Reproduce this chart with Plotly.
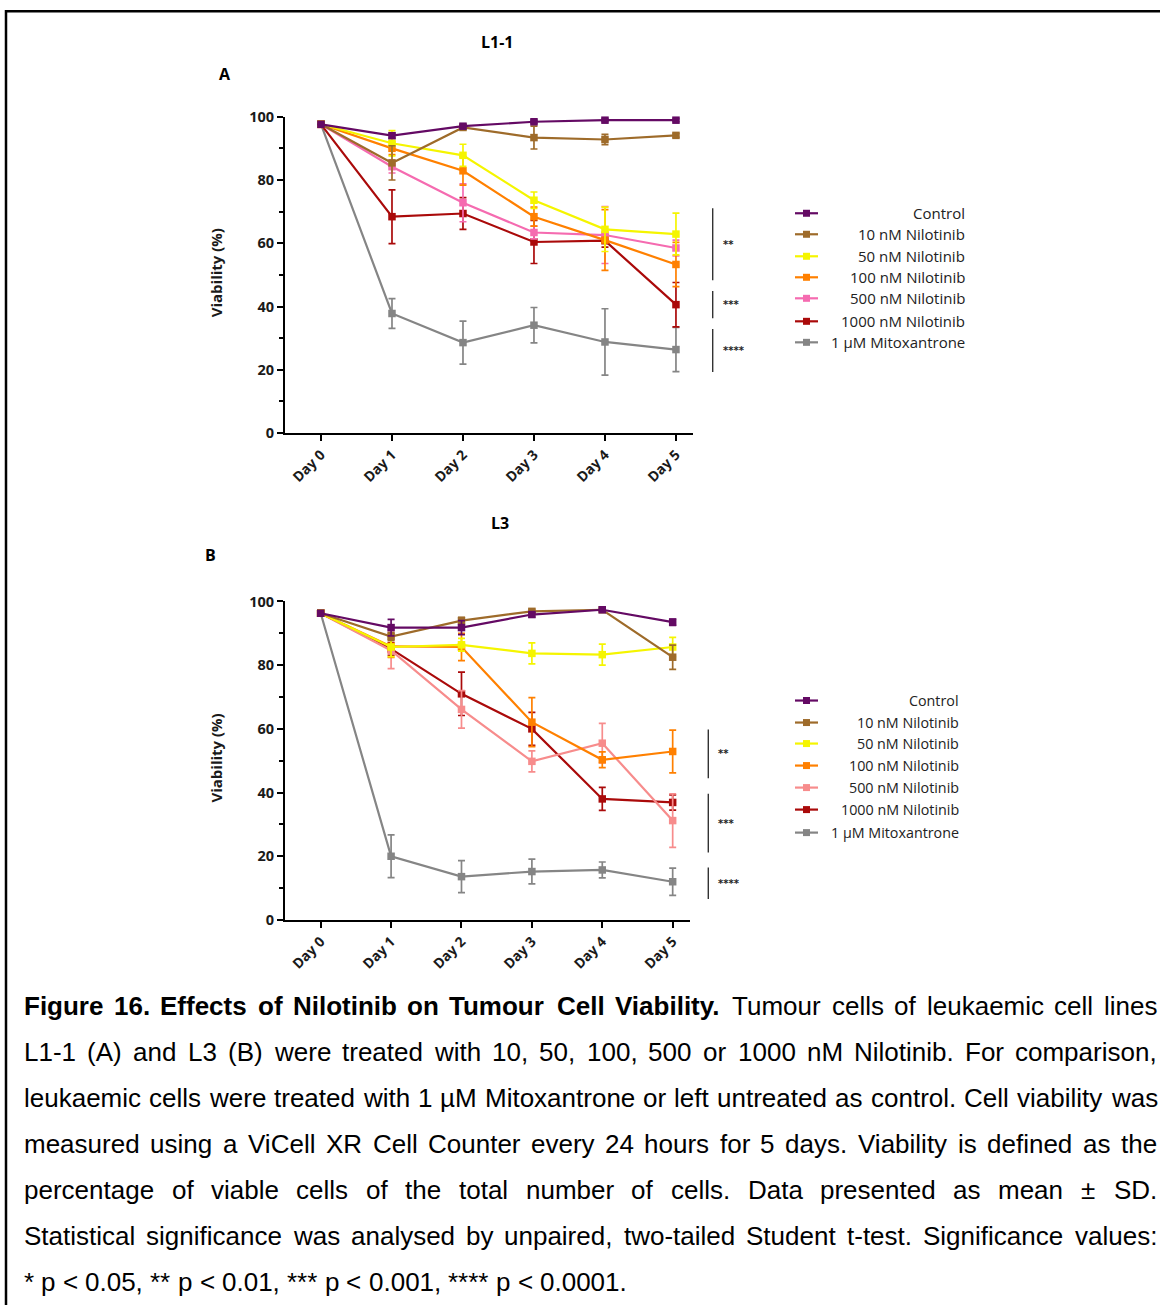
import plotly.graph_objects as go

W, H = 1160, 1305

# ---------------- data ----------------
days = ["Day 0", "Day 1", "Day 2", "Day 3", "Day 4", "Day 5"]
series = ["Control", "10 nM Nilotinib", "50 nM Nilotinib", "100 nM Nilotinib",
          "500 nM Nilotinib", "1000 nM Nilotinib", "1 µM Mitoxantrone"]

# Panel A: L1-1
a_control = [97.6, 94.0, 97.0, 98.4, 98.9, 98.9]
a_control_sd = [0, 0.8, 0.6, 0.5, 0.5, 0.5]
a_nil10 = [97.6, 85.4, 96.6, 93.4, 92.8, 94.1]
a_nil10_sd = [0, 5.4, 0.6, 3.6, 1.6, 0.6]
a_nil50 = [97.6, 91.6, 87.8, 73.6, 64.4, 62.9]
a_nil50_sd = [0, 4.0, 3.5, 2.6, 7.0, 6.6]
a_nil100 = [97.6, 90.0, 82.9, 68.4, 61.0, 53.3]
a_nil100_sd = [0, 2.0, 4.5, 3.0, 9.6, 7.0]
a_nil500 = [97.6, 84.2, 72.8, 63.4, 62.6, 58.5]
a_nil500_sd = [0, 2.0, 6.0, 2.0, 9.0, 2.5]
a_nil1000 = [97.6, 68.4, 69.4, 60.4, 60.8, 40.6]
a_nil1000_sd = [0, 8.5, 5.0, 6.8, 2.0, 7.0]
a_mitox = [97.6, 37.8, 28.6, 34.1, 28.8, 26.4]
a_mitox_sd = [0, 4.7, 6.8, 5.6, 10.5, 7.0]

# Panel B: L3
b_control = [96.3, 91.8, 91.8, 95.9, 97.4, 93.5]
b_control_sd = [0, 2.6, 2.2, 0.8, 0.5, 1.0]
b_nil10 = [96.3, 89.0, 94.0, 96.9, 97.4, 82.5]
b_nil10_sd = [0, 1.2, 1.0, 0.6, 0.4, 3.8]
b_nil50 = [96.3, 85.7, 86.4, 83.7, 83.3, 85.7]
b_nil50_sd = [0, 3.0, 2.0, 3.3, 3.3, 3.0]
b_nil100 = [96.3, 85.9, 85.7, 62.1, 50.3, 52.9]
b_nil100_sd = [0, 3.5, 4.3, 7.7, 2.5, 6.7]
b_nil500 = [96.3, 84.6, 66.1, 49.8, 55.5, 31.2]
b_nil500_sd = [0, 5.7, 5.9, 3.3, 6.2, 8.4]
b_nil1000 = [96.3, 85.1, 71.0, 60.0, 38.0, 36.9]
b_nil1000_sd = [0, 2.0, 6.8, 5.2, 3.6, 2.4]
b_mitox = [96.3, 20.0, 13.6, 15.2, 15.7, 12.0]
b_mitox_sd = [0, 6.7, 5.0, 3.9, 2.5, 4.3]

# significance brackets (label, top, bottom) in viability units
sig_A = [("**", 71.1, 48.3), ("***", 44.9, 36.3), ("****", 32.9, 19.3)]
sig_B = [("**", 59.8, 44.5), ("***", 39.6, 21.2), ("****", 16.5, 6.6)]

y_ticks = [0, 20, 40, 60, 80, 100]

# ---------------- styles ----------------
colors_A = ["#640a64", "#9e6b2a", "#f5f500", "#ff8000", "#f56bb0", "#aa0a0a", "#858585"]
colors_B = ["#640a64", "#9e6b2a", "#f5f500", "#ff8000", "#f78c8c", "#aa0a0a", "#858585"]

panel_A = list(zip(series, [a_control, a_nil10, a_nil50, a_nil100, a_nil500, a_nil1000, a_mitox],
                   [a_control_sd, a_nil10_sd, a_nil50_sd, a_nil100_sd, a_nil500_sd, a_nil1000_sd, a_mitox_sd],
                   colors_A))
panel_B = list(zip(series, [b_control, b_nil10, b_nil50, b_nil100, b_nil500, b_nil1000, b_mitox],
                   [b_control_sd, b_nil10_sd, b_nil50_sd, b_nil100_sd, b_nil500_sd, b_nil1000_sd, b_mitox_sd],
                   colors_B))

# vertical compensation for the page offset/scale seen in rendering
V_SCALE, V_OFF = 0.9849, 9.85

def px(x):
    return x / W

def py(y):
    return 1 - ((y - V_OFF) / V_SCALE) / H

fig = go.Figure()

for panel, xa, ya in [(panel_A, "x", "y"), (panel_B, "x2", "y2")]:
    for name, vals, sd, col in reversed(panel):
        fig.add_trace(go.Scatter(
            x=days, y=vals, name=name, xaxis=xa, yaxis=ya,
            mode="lines+markers", showlegend=False, cliponaxis=False,
            line=dict(color=col, width=2.2),
            marker=dict(symbol="square", size=7.5, color=col),
            error_y=dict(type="data", array=sd, color=col, thickness=1.7, width=3.5),
        ))

axis_common = dict(showline=True, linecolor="black", linewidth=2, ticks="outside",
                   tickcolor="black", tickwidth=2, ticklen=6, showgrid=False, zeroline=False)
xfont = dict(family="Open Sans", size=14, color="#1a1a1a", weight="bold")
yfont = dict(family="Open Sans", size=14.5, color="#1a1a1a", weight="bold")

fig.update_layout(
    width=W, height=H, margin=dict(l=0, r=0, t=0, b=0),
    paper_bgcolor="white", plot_bgcolor="white", showlegend=False,
    xaxis=dict(domain=[px(285), px(693)], anchor="y", type="category",
               range=[-0.507, 5.24], tickangle=-45, tickfont=xfont, **axis_common),
    yaxis=dict(domain=[py(432.7), py(116.5)], anchor="x", range=[0, 100],
               tickvals=y_ticks, tickfont=yfont,
               minor=dict(dtick=10, ticks="outside", ticklen=4, tickwidth=2, tickcolor="black"),
               **axis_common),
    xaxis2=dict(domain=[px(285), px(690)], anchor="y2", type="category",
                range=[-0.507, 5.246], tickangle=-45, tickfont=xfont, **axis_common),
    yaxis2=dict(domain=[py(919.3), py(601)], anchor="x2", range=[0, 100],
                tickvals=y_ticks, tickfont=yfont,
                minor=dict(dtick=10, ticks="outside", ticklen=4, tickwidth=2, tickcolor="black"),
                **axis_common),
)

shapes = []
annots = []

# border frame
shapes.append(dict(type="rect", xref="paper", yref="paper", x0=px(6), x1=1.02,
                   y0=-0.02, y1=py(11), line=dict(color="black", width=2.5)))

# titles and panel letters
title_font = dict(family="Open Sans", size=16, color="black", weight="bold")
for txt, x, y in [("L1-1", 497, 42), ("A", 225, 74), ("L3", 500, 523), ("B", 210, 555)]:
    annots.append(dict(text=txt, x=px(x), y=py(y), xref="paper", yref="paper",
                       showarrow=False, font=title_font, xanchor="center", yanchor="middle"))

# y-axis titles
for y in [273, 758]:
    annots.append(dict(text="Viability (%)", x=px(216), y=py(y), xref="paper", yref="paper",
                       showarrow=False, textangle=-90,
                       font=dict(family="Open Sans", size=15, color="#1a1a1a", weight="bold"),
                       xanchor="center", yanchor="middle"))

# significance brackets
for sigs, yref, xline in [(sig_A, "y", 712.7), (sig_B, "y2", 708.3)]:
    for lab, top, bot in sigs:
        shapes.append(dict(type="line", xref="paper", yref=yref, x0=px(xline), x1=px(xline),
                           y0=bot, y1=top, line=dict(color="#333333", width=1.4)))
        annots.append(dict(text=lab, x=px(xline + 8), y=(top + bot) / 2, xref="paper", yref=yref,
                           showarrow=False, xanchor="left", yanchor="middle",
                           font=dict(family="DejaVu Sans", size=10, color="#222222", weight="bold")))

# custom legends (right-aligned labels as in the original)
for panel, rows, text_right, fsize in [
        (panel_A, [213, 234, 256, 277, 298, 321, 342], 967, 15),
        (panel_B, [700, 722, 743, 765, 787, 809, 832], 961, 14.3)]:
    for (name, _, _, col), yr in zip(panel, rows):
        shapes.append(dict(type="line", xref="paper", yref="paper", x0=px(795), x1=px(818),
                           y0=py(yr), y1=py(yr), line=dict(color=col, width=2.2)))
        shapes.append(dict(type="rect", xref="paper", yref="paper", x0=px(803), x1=px(810),
                           y0=py(yr + 3.5), y1=py(yr - 3.5), line=dict(width=0), fillcolor=col))
        annots.append(dict(text=name, x=px(text_right), y=py(yr), xref="paper", yref="paper",
                           showarrow=False, xanchor="right", yanchor="middle",
                           font=dict(family="Open Sans", size=fsize, color="#222222")))

# ---------------- caption (justified, Arial metrics) ----------------
REG = {' ': 278, '!': 278, '%': 889, '(': 333, ')': 333, '*': 389, ',': 278, '-': 333, '.': 278,
       ':': 278, '<': 584, '±': 584, 'µ': 556,
       'A': 667, 'B': 667, 'C': 722, 'D': 722, 'E': 667, 'F': 611, 'G': 778, 'H': 722, 'I': 278,
       'J': 500, 'K': 667, 'L': 556, 'M': 833, 'N': 722, 'O': 778, 'P': 667, 'Q': 778, 'R': 722,
       'S': 667, 'T': 611, 'U': 722, 'V': 667, 'W': 944, 'X': 667, 'Y': 667, 'Z': 611,
       'a': 556, 'b': 556, 'c': 500, 'd': 556, 'e': 556, 'f': 278, 'g': 556, 'h': 556, 'i': 222,
       'j': 222, 'k': 500, 'l': 222, 'm': 833, 'n': 556, 'o': 556, 'p': 556, 'q': 556, 'r': 333,
       's': 500, 't': 278, 'u': 556, 'v': 500, 'w': 722, 'x': 500, 'y': 500, 'z': 500}
for d in "0123456789":
    REG[d] = 556
BOLD = {' ': 278, '.': 278, 'A': 722, 'B': 722, 'C': 722, 'D': 722, 'E': 667, 'F': 611, 'G': 778,
        'H': 722, 'I': 278, 'L': 611, 'M': 833, 'N': 722, 'T': 611, 'V': 667,
        'a': 556, 'b': 611, 'c': 556, 'd': 611, 'e': 556, 'f': 333, 'g': 611, 'h': 611, 'i': 278,
        'l': 278, 'm': 889, 'n': 611, 'o': 611, 'r': 389, 's': 556, 't': 333, 'u': 611, 'y': 556}
for d in "0123456789":
    BOLD[d] = 556

CAP_SIZE = 26
CAP_LEFT, CAP_RIGHT = 24, 1157
caption_bold = "Figure 16. Effects of Nilotinib on Tumour Cell Viability."
caption_lines = [
    "Tumour cells of leukaemic cell lines",
    "L1-1 (A) and L3 (B) were treated with 10, 50, 100, 500 or 1000 nM Nilotinib. For comparison,",
    "leukaemic cells were treated with 1 µM Mitoxantrone or left untreated as control. Cell viability was",
    "measured using a ViCell XR Cell Counter every 24 hours for 5 days. Viability is defined as the",
    "percentage of viable cells of the total number of cells. Data presented as mean ± SD.",
    "Statistical significance was analysed by unpaired, two-tailed Student t-test. Significance values:",
    "* p < 0.05, ** p < 0.01, *** p < 0.001, **** p < 0.0001.",
]
line_y = [1005, 1051, 1097, 1143, 1189, 1235, 1281]

def word_w(w, bold):
    tab = BOLD if bold else REG
    return sum(tab.get(c, 556) for c in w) * CAP_SIZE / 1000.0

for i, (line, yl) in enumerate(zip(caption_lines, line_y)):
    words = []
    if i == 0:
        words += [(w, True) for w in caption_bold.split(" ")]
    words += [(w, False) for w in line.split(" ")]
    total = sum(word_w(w, b) for w, b in words)
    gaps = len(words) - 1
    if i < len(caption_lines) - 1:
        gap = (CAP_RIGHT - CAP_LEFT - total) / gaps
    else:
        gap = 0.278 * CAP_SIZE
    x = CAP_LEFT
    for w, b in words:
        t = w.replace("<", "&lt;")
        if b:
            t = "<b>" + t + "</b>"
        annots.append(dict(text=t, x=px(x), y=py(yl), xref="paper", yref="paper",
                           showarrow=False, xanchor="left", yanchor="middle",
                           borderpad=0, borderwidth=0,
                           font=dict(family="Liberation Sans, Arial", size=CAP_SIZE, color="black")))
        x += word_w(w, b) + gap

fig.update_layout(shapes=shapes, annotations=annots)
fig.write_html("out.html")
